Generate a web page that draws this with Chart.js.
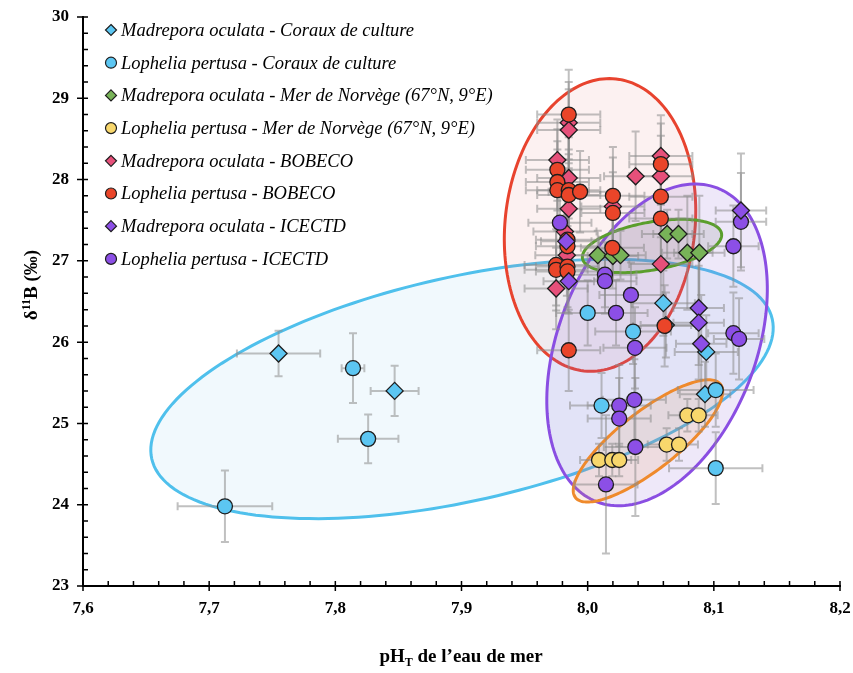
<!DOCTYPE html>
<html>
<head>
<meta charset="utf-8">
<script src="https://cdn.jsdelivr.net/npm/chart.js@4.4.1/dist/chart.umd.min.js"></script>
<style>
  html, body { margin: 0; padding: 0; background: #fff; }
</style>
</head>
<body>
<canvas id="chart" width="853" height="673"></canvas>
<script>
// --- data (pH_T, d11B, errors) ---
const mocCultureX = [7.755, 7.847, 8.060, 8.094, 8.093, 8.062];
const mocCultureY = [25.86, 25.40, 26.48, 25.88, 25.36, 26.21];
const mocCultureXErr = [0.033, 0.019, 0.025, 0.025, 0.02, 0.02];
const mocCultureYErr = [0.28, 0.31, 0.4, 0.45, 0.4, 0.4];

const lopCultureX = [7.7125, 7.814, 7.826, 8.000, 8.036, 8.011, 8.1015, 8.1015];
const lopCultureY = [23.98, 25.68, 24.81, 26.36, 26.13, 25.22, 25.41, 24.45];
const lopCultureXErr = [0.0375, 0.009, 0.024, 0.025, 0.03, 0.025, 0.03, 0.037];
const lopCultureYErr = [0.44, 0.43, 0.3, 0.4, 0.4, 0.4, 0.45, 0.44];

const mocNorwayX = [8.008, 8.020, 8.026, 8.063, 8.072, 8.079, 8.0885];
const mocNorwayY = [27.07, 27.06, 27.07, 27.33, 27.33, 27.10, 27.10];
const mocNorwayXErr = [0.02, 0.02, 0.02, 0.02, 0.02, 0.02, 0.02];
const mocNorwayYErr = [0.3, 0.3, 0.3, 0.3, 0.3, 0.7, 0.7];

const lopNorwayX = [8.009, 8.0195, 8.025, 8.0626, 8.0724, 8.079, 8.088];
const lopNorwayY = [24.55, 24.55, 24.55, 24.74, 24.74, 25.10, 25.10];
const lopNorwayXErr = [0.015, 0.015, 0.015, 0.015, 0.015, 0.015, 0.015];
const lopNorwayYErr = [0.2, 0.2, 0.2, 0.2, 0.2, 0.2, 0.2];

const mocBobecoX = [7.985, 7.985, 7.976, 7.985, 7.985, 7.982, 7.9835, 7.975, 8.038, 8.058, 8.058, 8.058, 8.020];
const mocBobecoY = [28.70, 28.61, 28.24, 28.02, 27.64, 27.36, 27.07, 26.66, 28.04, 28.04, 28.29, 26.96, 27.67];
const mocBobecoXErr = [0.025, 0.025, 0.025, 0.025, 0.025, 0.025, 0.025, 0.025, 0.025, 0.025, 0.025, 0.025, 0.025];
const mocBobecoYErr = [0.5, 0.5, 0.5, 0.5, 0.5, 0.5, 0.5, 0.5, 0.55, 0.5, 0.5, 0.5, 0.6];

const lopBobecoX = [7.985, 7.976, 7.976, 7.976, 7.985, 7.985, 7.994, 8.020, 8.020, 7.984, 7.984, 7.975, 7.975, 7.984, 7.984, 8.0196, 7.985, 8.058, 8.058, 8.058, 8.061];
const lopBobecoY = [28.80, 28.12, 27.97, 27.87, 27.87, 27.81, 27.85, 27.80, 27.59, 27.26, 27.18, 26.95, 26.89, 26.93, 26.87, 27.16, 25.90, 28.19, 27.79, 27.52, 26.20];
const lopBobecoXErr = [0.025, 0.025, 0.025, 0.025, 0.025, 0.025, 0.025, 0.025, 0.025, 0.025, 0.025, 0.025, 0.025, 0.025, 0.025, 0.025, 0.025, 0.025, 0.025, 0.025, 0.025];
const lopBobecoYErr = [0.55, 0.5, 0.5, 0.5, 0.5, 0.5, 0.5, 0.6, 0.5, 0.5, 0.5, 0.5, 0.5, 0.5, 0.5, 0.5, 0.5, 0.5, 0.5, 0.5, 0.5];

const mocIcectdX = [7.983, 7.985, 8.1215, 8.088, 8.088, 8.090];
const mocIcectdY = [27.24, 26.75, 27.62, 26.42, 26.24, 25.98];
const mocIcectdXErr = [0.02, 0.02, 0.02, 0.02, 0.02, 0.02];
const mocIcectdYErr = [0.4, 0.4, 0.7, 0.7, 0.7, 0.6];

const lopIcectdX = [7.978, 8.1215, 8.1155, 8.1155, 8.120, 8.0137, 8.0137, 8.0343, 8.0225, 8.0375, 8.025, 8.025, 8.037, 8.0378, 8.0145];
const lopIcectdY = [27.47, 27.48, 27.18, 26.11, 26.04, 26.83, 26.75, 26.58, 26.36, 25.93, 25.22, 25.06, 25.29, 24.71, 24.25];
const lopIcectdXErr = [0.025, 0.02, 0.02, 0.02, 0.02, 0.025, 0.025, 0.025, 0.025, 0.025, 0.025, 0.025, 0.025, 0.025, 0.025];
const lopIcectdYErr = [0.4, 0.6, 0.5, 0.5, 0.5, 0.4, 0.4, 0.4, 0.4, 0.5, 0.5, 0.5, 0.5, 0.85, 0.85];

const xTicks = [7.6, 7.7, 7.8, 7.9, 8.0, 8.1, 8.2];
const yTicks = [23, 24, 25, 26, 27, 28, 29, 30];

const serif = '"Liberation Serif", "Times New Roman", serif';

// series: label, arrays, marker, colour, draw order (lower = on top)
const series = [
  { label: 'Madrepora oculata - Coraux de culture', x: mocCultureX, y: mocCultureY, xe: mocCultureXErr, ye: mocCultureYErr, shape: 'rectRot', color: '#5cc6f2', order: 5 },
  { label: 'Lophelia pertusa - Coraux de culture', x: lopCultureX, y: lopCultureY, xe: lopCultureXErr, ye: lopCultureYErr, shape: 'circle', color: '#5cc6f2', order: 4 },
  { label: 'Madrepora oculata - Mer de Norvège (67°N, 9°E)', x: mocNorwayX, y: mocNorwayY, xe: mocNorwayXErr, ye: mocNorwayYErr, shape: 'rectRot', color: '#78b358', order: 6 },
  { label: 'Lophelia pertusa - Mer de Norvège (67°N, 9°E)', x: lopNorwayX, y: lopNorwayY, xe: lopNorwayXErr, ye: lopNorwayYErr, shape: 'circle', color: '#f8d76c', order: 6 },
  { label: 'Madrepora oculata - BOBECO', x: mocBobecoX, y: mocBobecoY, xe: mocBobecoXErr, ye: mocBobecoYErr, shape: 'rectRot', color: '#e6507a', order: 3 },
  { label: 'Lophelia pertusa - BOBECO', x: lopBobecoX, y: lopBobecoY, xe: lopBobecoXErr, ye: lopBobecoYErr, shape: 'circle', color: '#ea4529', order: 1 },
  { label: 'Madrepora oculata - ICECTD', x: mocIcectdX, y: mocIcectdY, xe: mocIcectdXErr, ye: mocIcectdYErr, shape: 'rectRot', color: '#8c4fe6', order: 0 },
  { label: 'Lophelia pertusa - ICECTD', x: lopIcectdX, y: lopIcectdY, xe: lopIcectdXErr, ye: lopIcectdYErr, shape: 'circle', color: '#8c4fe6', order: 2 }
];

// grouping ellipses: centre and the two semi-axis vectors, in data units
const ellipses = [
  { c: [7.9004, 25.424], a: [0.2459, 0.860], b: [0.0195, -1.344], stroke: '#4fc0ec', fill: 'rgba(120,200,235,0.10)' },
  { c: [8.0098, 27.442], a: [0.0127, 1.796], b: [0.0748, -0.128], stroke: '#e8432e', fill: 'rgba(225,120,120,0.10)' },
  { c: [8.055, 25.966], a: [0.0476, 1.931], b: [0.0733, -0.434], stroke: '#8a4ee2', fill: 'rgba(140,100,215,0.15)' },
  { c: [8.051, 27.183], a: [0.0551, 0.154], b: [0.0033, -0.290], stroke: '#5a9e2c', fill: 'rgba(110,110,110,0.16)' },
  { c: [8.0478, 24.785], a: [0.0575, 0.697], b: [0.0142, -0.282], stroke: '#ef8a2c', fill: 'rgba(235,150,70,0.14)' }
];

const datasets = series.map(s => ({
  label: s.label,
  data: s.x.map((v, i) => ({ x: v, y: s.y[i] })),
  pointStyle: s.shape,
  pointRadius: s.shape === 'circle' ? 7.5 : 8.5,
  backgroundColor: s.color,
  borderColor: '#1e1e1e',
  borderWidth: 1.3,
  order: s.order
}));

const backdropPlugin = {
  id: 'backdrop',
  beforeDatasetsDraw(chart) {
    const ctx = chart.ctx;
    const xs = chart.scales.x, ys = chart.scales.y;
    ctx.save();
    // ellipses
    ellipses.forEach(e => {
      const cx = xs.getPixelForValue(e.c[0]), cy = ys.getPixelForValue(e.c[1]);
      const ax = xs.getPixelForValue(e.c[0] + e.a[0]) - cx, ay = ys.getPixelForValue(e.c[1] + e.a[1]) - cy;
      const bx = xs.getPixelForValue(e.c[0] + e.b[0]) - cx, by = ys.getPixelForValue(e.c[1] + e.b[1]) - cy;
      ctx.beginPath();
      for (let i = 0; i <= 180; i++) {
        const t = i / 180 * Math.PI * 2;
        const px = cx + ax * Math.cos(t) + bx * Math.sin(t);
        const py = cy + ay * Math.cos(t) + by * Math.sin(t);
        if (i === 0) ctx.moveTo(px, py); else ctx.lineTo(px, py);
      }
      ctx.closePath();
      ctx.fillStyle = e.fill;
      ctx.fill();
      ctx.lineWidth = 3;
      ctx.strokeStyle = e.stroke;
      ctx.stroke();
    });
    // error bars
    ctx.strokeStyle = 'rgba(140,140,140,0.55)';
    ctx.lineWidth = 2;
    const cap = 4;
    series.forEach(s => {
      s.x.forEach((v, i) => {
        const px = xs.getPixelForValue(v), py = ys.getPixelForValue(s.y[i]);
        const x1 = xs.getPixelForValue(v - s.xe[i]), x2 = xs.getPixelForValue(v + s.xe[i]);
        const y1 = ys.getPixelForValue(s.y[i] - s.ye[i]), y2 = ys.getPixelForValue(s.y[i] + s.ye[i]);
        ctx.beginPath();
        ctx.moveTo(x1, py); ctx.lineTo(x2, py);
        ctx.moveTo(x1, py - cap); ctx.lineTo(x1, py + cap);
        ctx.moveTo(x2, py - cap); ctx.lineTo(x2, py + cap);
        ctx.moveTo(px, y1); ctx.lineTo(px, y2);
        ctx.moveTo(px - cap, y1); ctx.lineTo(px + cap, y1);
        ctx.moveTo(px - cap, y2); ctx.lineTo(px + cap, y2);
        ctx.stroke();
      });
    });
    ctx.restore();
  }
};

const decorPlugin = {
  id: 'decor',
  afterDraw(chart) {
    const ctx = chart.ctx;
    const xs = chart.scales.x, ys = chart.scales.y;
    const area = chart.chartArea;
    ctx.save();
    // tick marks (major + minor)
    ctx.strokeStyle = '#000';
    ctx.lineWidth = 1.5;
    ctx.beginPath();
    for (let k = 0; k <= 30; k++) {
      const px = xs.getPixelForValue(7.6 + k * 0.02);
      const major = k % 5 === 0;
      ctx.moveTo(px, area.bottom - 5);
      ctx.lineTo(px, major ? area.bottom + 5 : area.bottom);
    }
    for (let k = 0; k <= 35; k++) {
      const py = ys.getPixelForValue(23 + k * 0.2);
      const major = k % 5 === 0;
      ctx.moveTo(major ? area.left - 6 : area.left, py);
      ctx.lineTo(area.left + 5, py);
    }
    ctx.stroke();

    // axis titles
    ctx.fillStyle = '#000';
    ctx.textBaseline = 'alphabetic';
    const big = 'bold 19px ' + serif, small = 'bold 12px ' + serif;
    // x title: pH_T de l'eau de mer
    ctx.font = big;
    const p1 = 'pH', p3 = ' de l’eau de mer';
    const w1 = ctx.measureText(p1).width, w3 = ctx.measureText(p3).width;
    ctx.font = small;
    const w2 = ctx.measureText('T').width;
    let x0 = 461 - (w1 + w2 + w3) / 2;
    const yb = 662;
    ctx.font = big; ctx.textAlign = 'left';
    ctx.fillText(p1, x0, yb);
    ctx.font = small; ctx.fillText('T', x0 + w1, yb + 4);
    ctx.font = big; ctx.fillText(p3, x0 + w1 + w2, yb);

    // y title: d11B (permil)
    ctx.translate(37, 285);
    ctx.rotate(-Math.PI / 2);
    ctx.font = big;
    const q1 = 'δ', q3 = 'B (‰)';
    const v1 = ctx.measureText(q1).width, v3 = ctx.measureText(q3).width;
    ctx.font = small;
    const v2 = ctx.measureText('11').width;
    x0 = -(v1 + v2 + v3) / 2;
    ctx.font = big; ctx.fillText(q1, x0, 0);
    ctx.font = small; ctx.fillText('11', x0 + v1, -7);
    ctx.font = big; ctx.fillText(q3, x0 + v1 + v2, 0);
    ctx.restore();

    // legend in the top-left corner
    ctx.save();
    ctx.font = 'italic 18.5px ' + serif;
    ctx.textBaseline = 'middle';
    ctx.textAlign = 'left';
    series.forEach((s, i) => {
      const ly = 30 + i * 32.7;
      ctx.fillStyle = s.color;
      ctx.strokeStyle = '#1e1e1e';
      ctx.lineWidth = 1.2;
      ctx.beginPath();
      if (s.shape === 'circle') {
        ctx.arc(111, ly, 5.5, 0, Math.PI * 2);
      } else {
        ctx.moveTo(111, ly - 5.5); ctx.lineTo(116.5, ly); ctx.lineTo(111, ly + 5.5); ctx.lineTo(105.5, ly); ctx.closePath();
      }
      ctx.fill(); ctx.stroke();
      ctx.fillStyle = '#000';
      ctx.fillText(s.label, 121, ly + 1);
    });
    ctx.restore();
  }
};

new Chart(document.getElementById('chart').getContext('2d'), {
  type: 'scatter',
  data: { datasets: datasets },
  options: {
    responsive: false,
    animation: false,
    layout: { padding: { left: 0, right: 13, top: 17, bottom: 0 } },
    plugins: { legend: { display: false }, tooltip: { enabled: false } },
    scales: {
      x: {
        type: 'linear',
        min: xTicks[0],
        max: xTicks[xTicks.length - 1],
        afterBuildTicks: scale => { scale.ticks = xTicks.map(v => ({ value: v })); },
        afterFit: scale => { scale.height = 87; scale.paddingLeft = 0; scale.paddingRight = 0; },
        grid: { display: false, drawTicks: false },
        border: { display: true, color: '#000', width: 2 },
        ticks: {
          padding: 12,
          color: '#000',
          font: { family: serif, size: 17, weight: 'bold' },
          callback: v => Number(v).toFixed(1).replace('.', ',')
        }
      },
      y: {
        type: 'linear',
        min: yTicks[0],
        max: yTicks[yTicks.length - 1],
        afterBuildTicks: scale => { scale.ticks = yTicks.map(v => ({ value: v })); },
        afterFit: scale => { scale.width = 83; scale.paddingTop = 0; scale.paddingBottom = 0; },
        grid: { display: false, drawTicks: false },
        border: { display: true, color: '#000', width: 2 },
        ticks: {
          padding: 14,
          color: '#000',
          font: { family: serif, size: 17, weight: 'bold' },
          callback: v => String(v)
        }
      }
    }
  },
  plugins: [backdropPlugin, decorPlugin]
});
</script>
</body>
</html>
